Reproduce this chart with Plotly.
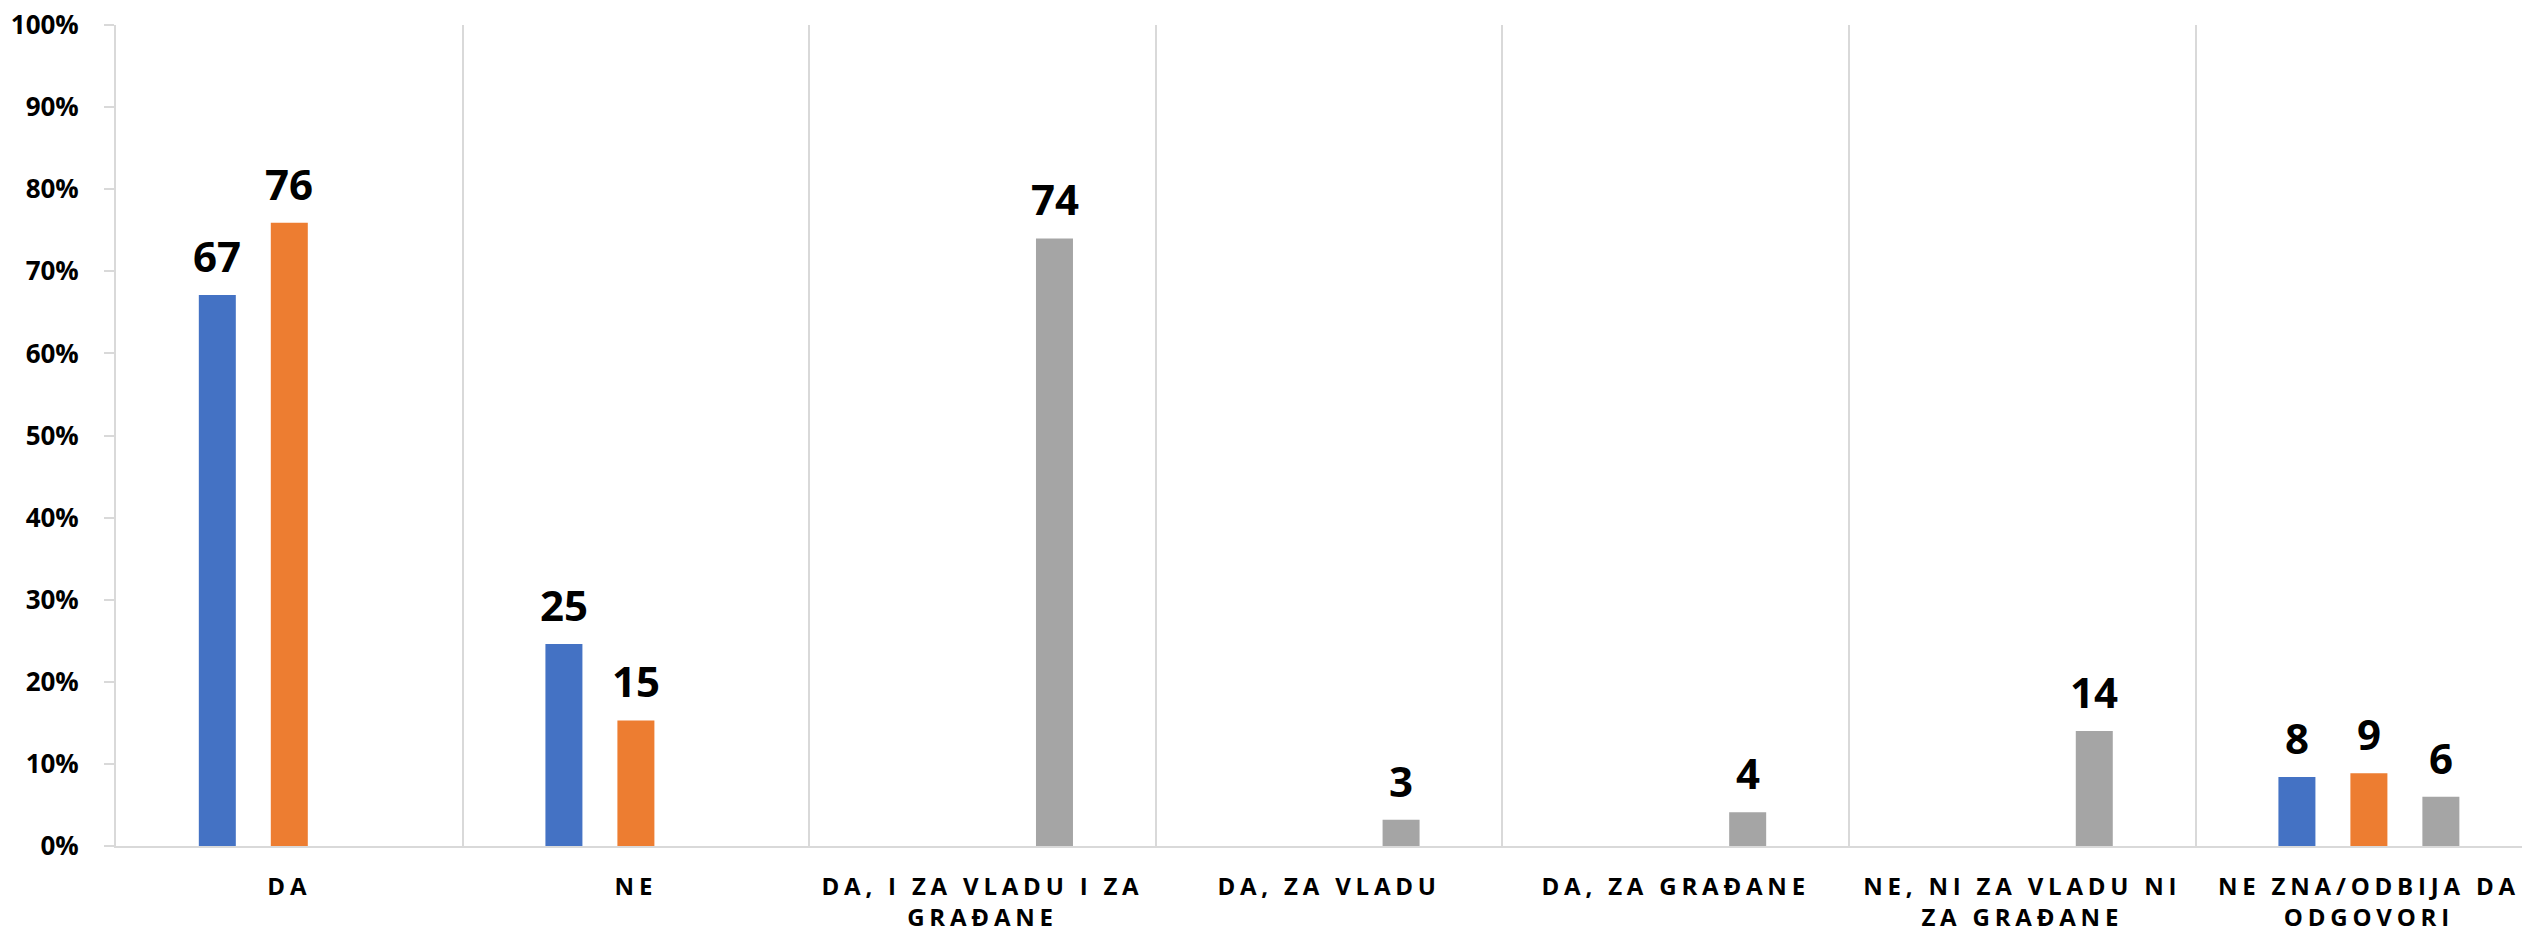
import plotly.graph_objects as go

categories = ["DA", "NE", "DA, I ZA VLADU I ZA<br>GRAĐANE", "DA, ZA VLADU",
              "DA, ZA GRAĐANE", "NE, NI ZA VLADU NI<br>ZA GRAĐANE",
              "NE ZNA/ODBIJA DA<br>ODGOVORI"]
series_blue = [67.1, 24.6, None, None, None, None, 8.4]
series_orange = [75.9, 15.3, None, None, None, None, 8.85]
series_gray = [None, None, 74.0, 3.2, 4.1, 14.0, 6.0]
labels_blue = ["67", "25", None, None, None, None, "8"]
labels_orange = ["76", "15", None, None, None, None, "9"]
labels_gray = [None, None, "74", "3", "4", "14", "6"]
y_ticks = [0, 10, 20, 30, 40, 50, 60, 70, 80, 90, 100]

FONT = "Open Sans"
colors = ["#4472C4", "#ED7D31", "#A5A5A5"]
series = [series_blue, series_orange, series_gray]
labels = [labels_blue, labels_orange, labels_gray]
shifts = [-72, 0, 72]

fig = go.Figure()
for vals, col in zip(series, colors):
    fig.add_trace(go.Bar(x=categories, y=vals, marker=dict(color=col, line=dict(width=0)),
                         showlegend=False, hoverinfo="skip"))

annotations = []
for vals, labs, sh in zip(series, labels, shifts):
    for c, v, t in zip(categories, vals, labs):
        if v is None:
            continue
        annotations.append(dict(x=c, y=v, text=t, showarrow=False, xshift=sh,
                                yanchor="bottom", yshift=9,
                                font=dict(family=FONT, size=42, color="#000000", weight="bold")))

fig.update_layout(
    width=2522, height=933,
    margin=dict(l=116, r=0, t=25, b=87, autoexpand=False),
    paper_bgcolor="white", plot_bgcolor="white",
    barmode="group", bargap=0.377, bargroupgap=0.486,
    annotations=annotations,
    font=dict(family=FONT, color="#000000"),
)
fig.update_xaxes(
    type="category", range=[-0.5, -0.5 + (2522 - 116) / 346.6],
    showline=True, linecolor="#D9D9D9", linewidth=2,
    showgrid=True, gridcolor="#D9D9D9", gridwidth=1.5, tickson="boundaries",
    ticks="", tickfont=dict(family=FONT, size=24, color="#000000", weight="bold"),
    ticklabelstandoff=18, automargin=False,
)
fig.update_yaxes(
    range=[0, 100], tickvals=y_ticks, ticktext=[f"{v}%" for v in y_ticks],
    showline=True, linecolor="#D9D9D9", linewidth=2,
    showgrid=False, zeroline=False, automargin=False,
    ticks="outside", ticklen=10, tickcolor="#D9D9D9", tickwidth=2,
    tickfont=dict(family=FONT, size=26, color="#000000", weight="bold"),
    ticklabelstandoff=20,
)

post_script = """
document.body.style.margin = '0';
document.body.style.overflow = 'hidden';
var gd = document.getElementById('{plot_id}');
function ls(){ document.querySelectorAll('.xtick text').forEach(function(t){ t.style.letterSpacing = '4.8px'; }); }
ls();
if (gd && gd.on) { gd.on('plotly_afterplot', ls); }
"""
fig.write_html("out.html", post_script=post_script, config={"displayModeBar": False})
